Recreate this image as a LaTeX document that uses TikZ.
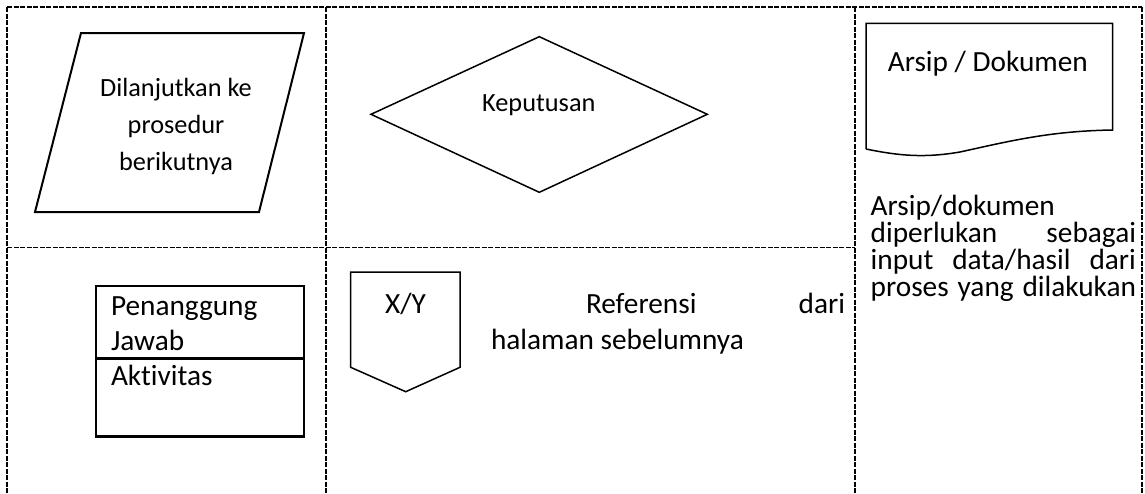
\documentclass[tikz,border=0pt]{standalone}
\usepackage{fontspec}
\setmainfont{Carlito}[RawFeature={-liga}]
\newcommand\bodyfs{\fontsize{29.3}{35.7}\selectfont}
\newcommand\shapefs{\fontsize{26.3}{36.7}\selectfont}
\tikzset{
  grid line/.style={line width=1.3pt, dash pattern=on 5pt off 1.5pt},
  shape line/.style={line width=1.6pt, line join=miter},
  txt/.style={inner sep=0pt, outer sep=0pt, font=\bodyfs},
  stxt/.style={inner sep=0pt, outer sep=0pt, font=\shapefs},
}
\begin{document}
\begin{tikzpicture}[x=1pt,y=-1pt]
\useasboundingbox (0,0) rectangle (1145,493);
% table grid
\draw[grid line] (7,7) -- (1142,7);
\draw[grid line] (7,7) -- (7,493);
\draw[grid line] (326,7) -- (326,493);
\draw[grid line] (855,7) -- (855,493);
\draw[grid line] (1142,7) -- (1142,493);
\draw[grid line] (7,247.5) -- (855,247.5);

% parallelogram
\draw[shape line, line width=2pt] (81,33) -- (304,33) -- (259,212) -- (35,212) -- cycle;
\node[stxt, anchor=base] (p1) at (176,96.7) {Dilanjutkan ke};
\node[stxt, anchor=base] (p2) at (176,133.3) {prosedur};
\node[stxt, anchor=base] (p3) at (176,170) {berikutnya};

% diamond
\draw[shape line, line width=1.5pt] (371,114.3) -- (539.3,36.7) -- (707.3,114.3) -- (539.3,192.3) -- cycle;
\node[stxt, anchor=base] (kep) at (538.8,111.7) {Keputusan};

% document
\draw[shape line, line width=1.5pt] (866,149) -- (866,23.3) -- (1112.7,23.3) -- (1112.7,130)
   .. controls (1050,131) and (1010,141) .. (960,152)
   .. controls (925,158) and (900,156) .. (866,149);
\node[txt, anchor=base] (doc) at (987.8,71.7) {Arsip / Dokumen};

% right description
\node[txt, anchor=base west] (r1) at (870.7,215.5) {Arsip/dokumen};
\node[txt, anchor=base west] (r2) at (870.7,242.5) {\makebox[265.3pt][s]{diperlukan sebagai}};
\node[txt, anchor=base west] (r3) at (870.7,269.5) {\makebox[265.3pt][s]{input data/hasil dari}};
\node[txt, anchor=base west] (r4) at (870.7,296.5) {\makebox[265.3pt][s]{proses yang dilakukan}};

% penanggung jawab box
\draw[line width=2.7pt] (96,286) rectangle (304,436.7);
\draw[line width=2.7pt] (96,358.7) -- (304,358.7);
\node[txt, anchor=base west] (pj1) at (111,315) {Penanggung};
\node[txt, anchor=base west] (pj2) at (111,350) {Jawab};
\node[txt, anchor=base west] (pj3) at (111,385.7) {Aktivitas};

% off-page reference
\draw[shape line, line width=1.5pt] (350.7,272) -- (460,272) -- (460,367.3) -- (405.7,391.7) -- (350.7,367.3) -- cycle;
\node[txt, anchor=base] (xy) at (405.5,313.3) {X/Y};
\node[txt, anchor=base west] (ref1) at (586,313.3) {\makebox[259pt][s]{Referensi dari}};
\node[txt, anchor=base west] (ref2) at (491,349) {halaman sebelumnya};
\end{tikzpicture}
\end{document}
